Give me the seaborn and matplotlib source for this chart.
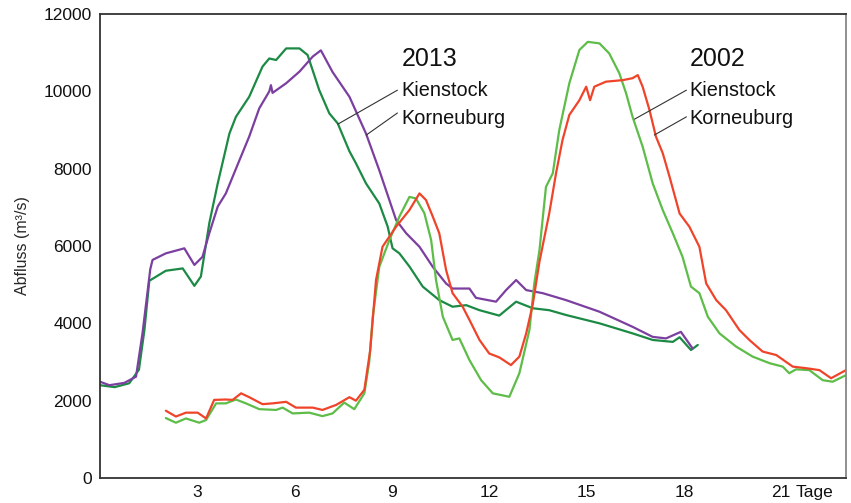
import matplotlib
matplotlib.use("Agg")
import matplotlib.pyplot as plt
import seaborn as sns
import pandas as pd
from matplotlib.ticker import MultipleLocator, FixedLocator, FixedFormatter

# ---------------- data ----------------
k13_day = [0, 0.45, 0.9, 1.2, 1.37, 1.52, 2.03, 2.55, 2.91, 3.11, 3.37, 3.63, 3.99, 4.19, 4.60,
           5.01, 5.22, 5.43, 5.74, 6.15, 6.40, 6.76, 7.07, 7.33, 7.69, 7.89, 8.20, 8.61, 8.87,
           9.02, 9.23, 9.54, 9.95, 10.46, 10.87, 11.29, 11.70, 12.31, 12.83, 13.34, 13.85,
           14.37, 15.40, 16.42, 17.04, 17.66, 17.87, 18.22, 18.43]
k13_q = [2400, 2350, 2450, 2800, 3830, 5100, 5360, 5420, 4970, 5210, 6590, 7620, 8910, 9340, 9860,
         10640, 10850, 10810, 11110, 11110, 10940, 10030, 9430, 9170, 8450, 8140, 7620, 7100, 6500,
         5940, 5810, 5470, 4950, 4600, 4430, 4470, 4340, 4200, 4560, 4390, 4340,
         4215, 4000, 3740, 3570, 3520, 3640, 3310, 3440]

p13_day = [0, 0.29, 0.75, 1.11, 1.31, 1.55, 1.62, 2.03, 2.34, 2.60, 2.91, 3.16, 3.37, 3.63, 3.88,
           4.30, 4.60, 4.91, 5.22, 5.27, 5.32, 5.74, 6.15, 6.56, 6.81, 7.17, 7.69, 8.20, 8.61,
           9.13, 9.44, 9.85, 10.26, 10.67, 10.87, 11.39, 11.59, 12.21, 12.52, 12.83, 13.14,
           13.65, 14.37, 15.40, 16.42, 17.04, 17.45, 17.91, 18.27]
p13_q = [2490, 2400, 2460, 2620, 3740, 5400, 5640, 5810, 5880, 5940, 5510, 5720, 6330, 7020, 7360,
         8220, 8830, 9560, 10000, 10160, 9960, 10210, 10510, 10900, 11060, 10500, 9860, 8910, 7960,
         6670, 6330, 5980, 5460, 5030, 4900, 4900, 4660, 4560, 4860, 5120, 4860,
         4780, 4600, 4300, 3910, 3650, 3610, 3780, 3350]

k02_day = [2.03, 2.34, 2.65, 3.06, 3.27, 3.58, 3.88, 4.19, 4.50, 4.91, 5.43, 5.63, 5.94, 6.45,
           6.86, 7.17, 7.53, 7.84, 8.15, 8.30, 8.41, 8.61, 8.92, 9.23, 9.54, 9.74, 10.00, 10.21,
           10.36, 10.57, 10.87, 11.08, 11.39, 11.75, 12.11, 12.62, 12.93, 13.24, 13.39, 13.55,
           13.75, 13.96, 14.16, 14.47, 14.78, 15.04, 15.40, 15.70, 16.01, 16.22, 16.42, 16.73,
           17.04, 17.35, 17.66, 17.96, 18.22, 18.48, 18.74, 19.10, 19.61, 20.12, 20.64, 21.05,
           21.25, 21.46, 21.87, 22.28, 22.59, 23.0]
k02_q = [1550, 1430, 1540, 1430, 1500, 1930, 1930, 2030, 1930, 1780, 1760, 1820, 1670, 1690,
         1600, 1670, 1950, 1780, 2190, 3000, 4170, 5460, 6150, 6760, 7270, 7230, 6850, 6150,
         5120, 4170, 3570, 3610, 3050, 2530, 2190, 2100, 2710, 3830, 5030, 5900,
         7530, 7880, 9000, 10210, 11070, 11280, 11240, 10980, 10470, 9950, 9340, 8570,
         7620, 6930, 6330, 5720, 4950, 4780, 4170, 3740, 3400, 3140, 2970, 2880,
         2710, 2810, 2790, 2530, 2490, 2660]

r02_day = [2.03, 2.34, 2.65, 3.01, 3.27, 3.52, 3.88, 4.09, 4.35, 4.60, 5.01, 5.32, 5.74, 6.04,
           6.56, 6.86, 7.28, 7.69, 7.89, 8.15, 8.33, 8.51, 8.71, 9.13, 9.54, 9.85, 10.05, 10.26,
           10.46, 10.67, 10.87, 11.18, 11.39, 11.70, 12.00, 12.31, 12.67, 12.93, 13.14, 13.34,
           13.55, 13.85, 14.06, 14.26, 14.47, 14.78, 14.99, 15.11, 15.24, 15.60, 16.12, 16.42,
           16.58, 16.73, 16.94, 17.14, 17.35, 17.56, 17.87, 18.17, 18.48, 18.69, 19.00, 19.30,
           19.71, 20.02, 20.43, 20.85, 21.36, 21.77, 22.18, 22.54, 23.0]
r02_q = [1740, 1590, 1690, 1690, 1540, 2020, 2030, 2020, 2190, 2090, 1910, 1930, 1970, 1820,
         1820, 1760, 1890, 2090, 2000, 2280, 3300, 5120, 5980, 6500, 6930, 7360, 7190, 6760,
         6330, 5380, 4780, 4430, 4090, 3570, 3220, 3120, 2920, 3140, 3740, 4480,
         5600, 6840, 7880, 8740, 9390, 9770, 10120, 9770, 10120, 10250, 10290, 10340,
         10420, 10120, 9520, 8830, 8400, 7790, 6840, 6500, 5980, 5030, 4600, 4340,
         3830, 3570, 3270, 3180, 2880, 2840, 2790, 2580, 2790]

x_ticks = [3, 6, 9, 12, 15, 18, 21]
x_labels = ["3", "6", "9", "12", "15", "18", "21"]
y_ticks = [0, 2000, 4000, 6000, 8000, 10000, 12000]
y_labels = ["0", "2000", "4000", "6000", "8000", "10000", "12000"]

series = {
    "2013 Kienstock": (k13_day, k13_q, "#1c8a45"),
    "2013 Korneuburg": (p13_day, p13_q, "#7b3fa0"),
    "2002 Kienstock": (k02_day, k02_q, "#5dbd48"),
    "2002 Korneuburg": (r02_day, r02_q, "#f0442a"),
}

# ---------------- figure ----------------
sns.set_style("white")
plt.rcParams["font.family"] = ["Liberation Sans", "DejaVu Sans"]

fig = plt.figure(figsize=(8.51, 5.03), dpi=100)
ax = fig.add_axes([100 / 851, 1 - 478 / 503, 746 / 851, 464 / 503])

frames = []
for name, (d, q, c) in series.items():
    frames.append(pd.DataFrame({"Tag": d, "Abfluss": q, "Serie": name}))
df = pd.concat(frames, ignore_index=True)
palette = {k: v[2] for k, v in series.items()}
sns.lineplot(data=df, x="Tag", y="Abfluss", hue="Serie", palette=palette,
             estimator=None, sort=False, linewidth=1.6, legend=False, ax=ax)

ax.set_xlim(0, 23)
ax.set_ylim(0, 12000)
ax.xaxis.set_major_locator(FixedLocator(x_ticks))
ax.xaxis.set_major_formatter(FixedFormatter(x_labels))
ax.xaxis.set_minor_locator(MultipleLocator(1))
ax.yaxis.set_major_locator(FixedLocator(y_ticks))
ax.yaxis.set_major_formatter(FixedFormatter(y_labels))
ax.yaxis.set_minor_locator(MultipleLocator(1000))
ax.tick_params(axis="both", which="both", direction="in", length=5, width=1,
               color="#333333", labelsize=12.5, pad=5, labelcolor="#111111")
ax.tick_params(axis="y", which="major", pad=6)
ax.set_xlabel("")
ax.set_ylabel("Abfluss (m³/s)", fontsize=11.5, labelpad=10)

for s in ["left", "bottom", "top"]:
    ax.spines[s].set_color("#333333")
    ax.spines[s].set_linewidth(1.3)
ax.spines["right"].set_color("#888888")
ax.spines["right"].set_linewidth(1.3)

ax.annotate("Tage", xy=(21.45, 0), xycoords="data", xytext=(0, -5),
            textcoords="offset points", ha="left", va="top", fontsize=12.5,
            color="#111111")

# labels with leader lines
def label_block(x0, year, items):
    ax.text(x0, 10840, year, fontsize=18, ha="left", va="center", color="#111111")
    for txt, ytxt, start, end in items:
        ax.text(x0, ytxt, txt, fontsize=14.3, ha="left", va="center", color="#111111")
        ax.plot([start[0], end[0]], [start[1], end[1]], color="#333333", linewidth=0.8)

label_block(9.29, "2013", [
    ("Kienstock", 10030, (7.33, 9150), (9.17, 10030)),
    ("Korneuburg", 9310, (8.21, 8870), (9.17, 9440)),
])
label_block(18.17, "2002", [
    ("Kienstock", 10030, (16.48, 9280), (18.08, 10030)),
    ("Korneuburg", 9310, (17.09, 8870), (18.08, 9340)),
])

fig.savefig("out.png", dpi=100)
